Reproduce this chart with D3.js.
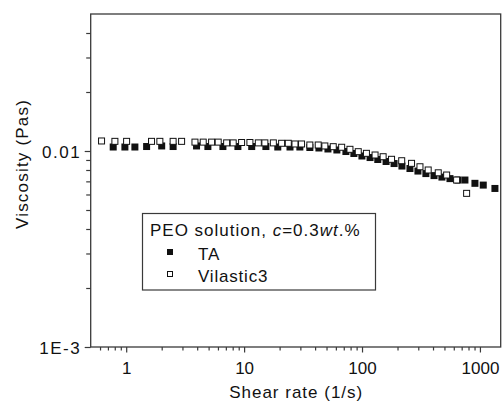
<!DOCTYPE html>
<html>
<head>
<meta charset="utf-8">
<script src="https://cdn.jsdelivr.net/npm/d3@7"></script>
<style>
  html, body { margin: 0; padding: 0; background: #fff; }
  svg { display: block; }
  text { font-family: "Liberation Sans", Arial, Helvetica, sans-serif; fill: #111; }
</style>
</head>
<body>
<svg id="chart" width="503" height="402"></svg>
<script>
// Shear rate (1/s) and viscosity (Pa·s) for PEO solution, c = 0.3 wt.%
const shearRateTA = [0.776, 0.975, 1.185, 1.49, 2.0, 2.5, 3.95, 4.93, 6.61, 8.86,
  11.6, 15.3, 19.3, 24.5, 29.7, 36.1, 43.1, 51.4, 61.2, 73.0,
  85.3, 99.8, 117, 136, 160, 187, 218, 255, 298, 348,
  408, 476, 557, 651, 746, 907, 1067, 1340];
const viscosityTA = [0.01048, 0.01048, 0.01048, 0.01054, 0.01061, 0.01054, 0.01061, 0.01054, 0.01054, 0.01054,
  0.01054, 0.01054, 0.01048, 0.01048, 0.01048, 0.01042, 0.01036, 0.01024, 0.01012, 0.00994,
  0.00971, 0.00943, 0.00926, 0.00905, 0.00884, 0.00863, 0.00838, 0.00814, 0.00790, 0.00767,
  0.00749, 0.00736, 0.00723, 0.00711, 0.00711, 0.00684, 0.00670, 0.00644];

const shearRateVilastic = [0.618, 0.802, 1.008, 1.64, 1.93, 2.50, 2.95, 3.83, 4.50, 5.30,
  6.03, 7.11, 8.08, 9.52, 11.2, 13.2, 15.0, 17.7, 20.8, 23.7,
  27.0, 30.7, 36.1, 42.5, 48.4, 57.0, 67.2, 79.0, 92.9, 109,
  129, 151, 178, 217, 263, 310, 364, 443, 522, 634, 771];
const viscosityVilastic = [0.01125, 0.0112, 0.0112, 0.0112, 0.0112, 0.0112, 0.0112, 0.0111, 0.0111, 0.0111,
  0.0111, 0.0110, 0.0110, 0.01105, 0.01105, 0.0110, 0.0110, 0.0110, 0.01095, 0.01095,
  0.01086, 0.01086, 0.01073, 0.01073, 0.01061, 0.01052, 0.01045, 0.0102, 0.00992, 0.00973,
  0.00954, 0.00935, 0.00907, 0.00892, 0.00865, 0.00831, 0.0080, 0.00774, 0.00754, 0.00711, 0.00608];

const xDomain = [0.5, 1500];
const yDomain = [0.001, 0.05];
const xMajorTicks = [1, 10, 100, 1000];
const xTickLabels = ["1", "10", "100", "1000"];
const xMinorTicks = [0.6, 0.7, 0.8, 0.9, 2, 3, 4, 5, 6, 7, 8, 9, 20, 30, 40, 50, 60, 70, 80, 90,
  200, 300, 400, 500, 600, 700, 800, 900];
const yMajorTicks = [0.001, 0.01];
const yTickLabels = ["1E-3", "0.01"];
const yMinorTicks = [0.002, 0.003, 0.004, 0.005, 0.006, 0.007, 0.008, 0.009, 0.02, 0.03, 0.04];

const seriesNames = ["TA", "Vilastic3"];
const legendTitle = "PEO solution, ";

const svg = d3.select("#chart");
const plot = { left: 90.7, right: 500.7, top: 14, bottom: 347 };

const x = d3.scaleLog().domain(xDomain).range([plot.left, plot.right]);
const y = d3.scaleLog().domain(yDomain).range([plot.bottom, plot.top]);

const axisColor = "#3a3a3a";

// Bottom axis: major + minor ticks
const xAxisMajor = d3.axisBottom(x).tickValues(xMajorTicks)
  .tickFormat((d, i) => xTickLabels[i]).tickSize(5.5).tickPadding(9);
const xAxisMinor = d3.axisBottom(x).tickValues(xMinorTicks).tickFormat("").tickSize(3.5);

const gxMinor = svg.append("g").attr("transform", `translate(0,${plot.bottom})`).call(xAxisMinor);
const gx = svg.append("g").attr("transform", `translate(0,${plot.bottom})`).call(xAxisMajor);

// Left axis: major + minor ticks
const yAxisMajor = d3.axisLeft(y).tickValues(yMajorTicks)
  .tickFormat((d, i) => yTickLabels[i]).tickSize(6).tickPadding(3.5);
const yAxisMinor = d3.axisLeft(y).tickValues(yMinorTicks).tickFormat("").tickSize(4.5);

const gyMinor = svg.append("g").attr("transform", `translate(${plot.left},0)`).call(yAxisMinor);
const gy = svg.append("g").attr("transform", `translate(${plot.left},0)`).call(yAxisMajor);

[gx, gxMinor, gy, gyMinor].forEach(g => {
  g.select(".domain").remove();
  g.selectAll(".tick line").attr("stroke", axisColor).attr("stroke-width", 1.2);
  g.selectAll("text").attr("font-size", 17).attr("fill", "#111")
    .style("font-family", '"Liberation Sans", Arial, sans-serif');
});
gy.selectAll("text").attr("dy", "0.36em").attr("letter-spacing", "1.5px");

// Frame
svg.append("rect")
  .attr("x", plot.left).attr("y", plot.top)
  .attr("width", plot.right - plot.left).attr("height", plot.bottom - plot.top)
  .attr("fill", "none").attr("stroke", axisColor).attr("stroke-width", 1.3);

// Axis titles
svg.append("text")
  .attr("x", (plot.left + plot.right) / 2 + 0.5).attr("y", 398)
  .attr("text-anchor", "middle").attr("font-size", 17)
  .attr("letter-spacing", "1px")
  .text("Shear rate (1/s)");

svg.append("text")
  .attr("transform", `translate(27.5,164) rotate(-90)`)
  .attr("text-anchor", "middle").attr("font-size", 17)
  .attr("letter-spacing", "1.2px")
  .text("Viscosity (Pas)");

// Data: TA (filled squares) beneath Vilastic3 (open squares)
const markerSize = 7;
const taData = shearRateTA.map((s, i) => ({ s, v: viscosityTA[i] }));
const vilData = shearRateVilastic.map((s, i) => ({ s, v: viscosityVilastic[i] }));

svg.append("g").selectAll("rect").data(taData).join("rect")
  .attr("x", d => x(d.s) - markerSize / 2)
  .attr("y", d => y(d.v) - markerSize / 2)
  .attr("width", markerSize).attr("height", markerSize)
  .attr("fill", "#111");

svg.append("g").selectAll("rect").data(vilData).join("rect")
  .attr("x", d => x(d.s) - (markerSize - 1) / 2)
  .attr("y", d => y(d.v) - (markerSize - 1) / 2)
  .attr("width", markerSize - 1).attr("height", markerSize - 1)
  .attr("fill", "#fff").attr("stroke", "#111").attr("stroke-width", 1);

// Legend
const legend = svg.append("g");
legend.append("rect")
  .attr("x", 142.5).attr("y", 213.5).attr("width", 233).attr("height", 76.5)
  .attr("fill", "#fff").attr("stroke", "#3a3a3a").attr("stroke-width", 1.2);

const title = legend.append("text")
  .attr("x", 150).attr("y", 236).attr("font-size", 17).attr("letter-spacing", "1px");
title.append("tspan").text(legendTitle);
title.append("tspan").attr("font-style", "italic").text("c");
title.append("tspan").text("=0.3");
title.append("tspan").attr("font-style", "italic").text("wt");
title.append("tspan").text(".%");

const legendRows = [
  { name: seriesNames[0], y: 258, filled: true },
  { name: seriesNames[1], y: 280, filled: false }
];
legendRows.forEach(r => {
  legend.append("rect")
    .attr("x", r.filled ? 167 : 167.5).attr("y", r.filled ? r.y - 9 : r.y - 8.5)
    .attr("width", r.filled ? 6 : 5).attr("height", r.filled ? 6 : 5)
    .attr("fill", r.filled ? "#111" : "#fff")
    .attr("stroke", r.filled ? "none" : "#111").attr("stroke-width", 1);
  legend.append("text")
    .attr("x", 198).attr("y", r.y + 1.5).attr("font-size", 17).attr("letter-spacing", "0.8px")
    .text(r.name);
});
</script>
</body>
</html>
